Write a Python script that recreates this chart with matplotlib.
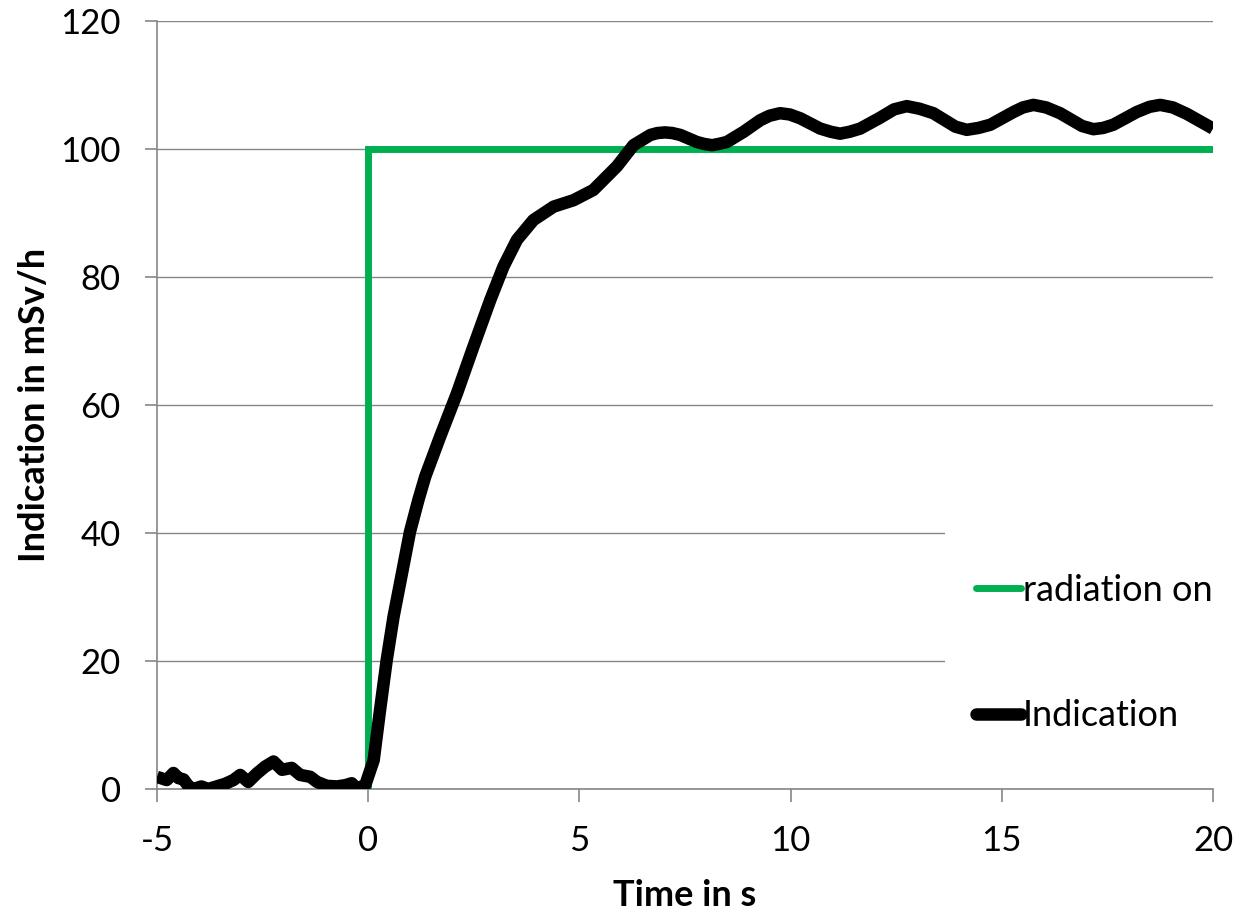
import matplotlib
matplotlib.use('Agg')
import matplotlib.pyplot as plt
from matplotlib.patches import Rectangle

time_s = [-5.0, -4.77, -4.61, -4.49, -4.37, -4.25, -4.13, -3.95, -3.79, -3.59,
          -3.39, -3.19, -3.03, -2.84, -2.64, -2.44, -2.24, -2.04, -1.81, -1.61,
          -1.37, -1.21, -0.98, -0.74, -0.54, -0.39, -0.27, -0.07, 0.13, 0.28,
          0.44, 0.60, 0.80, 0.99, 1.19, 1.35, 1.70, 2.10, 2.49, 2.89,
          3.20, 3.52, 3.91, 4.39, 4.86, 5.33, 5.89, 6.28, 6.68, 6.85,
          7.03, 7.20, 7.39, 7.78, 7.95, 8.14, 8.30, 8.49, 8.89, 9.28,
          9.50, 9.75, 9.98, 10.23, 10.70, 10.95, 11.17, 11.40, 11.65, 12.12,
          12.45, 12.75, 13.05, 13.38, 13.90, 14.17, 14.45, 14.73, 15.28, 15.50,
          15.75, 16.05, 16.38, 16.90, 17.17, 17.40, 17.64, 18.20, 18.50, 18.75,
          19.05, 19.38, 20.0]
indication = [1.9, 1.4, 2.5, 1.7, 1.5, 0.4, 0.0, 0.4, 0.0, 0.4,
              0.8, 1.4, 2.2, 1.1, 2.4, 3.5, 4.3, 3.0, 3.3, 2.2,
              1.9, 1.1, 0.5, 0.4, 0.6, 0.9, 0.1, 0.6, 4.5, 12.3,
              20.2, 26.9, 33.7, 40.2, 45.2, 48.8, 55.0, 61.8, 69.1, 76.4,
              81.6, 85.8, 88.9, 91.0, 92.0, 93.6, 97.3, 100.6, 102.2, 102.5,
              102.6, 102.5, 102.2, 101.1, 100.8, 100.6, 100.8, 101.1, 102.7, 104.5,
              105.2, 105.6, 105.4, 104.8, 103.2, 102.7, 102.4, 102.7, 103.2, 104.9,
              106.2, 106.7, 106.3, 105.6, 103.5, 103.0, 103.3, 103.8, 105.8, 106.5,
              106.9, 106.5, 105.6, 103.6, 103.1, 103.3, 103.8, 105.8, 106.6, 106.9,
              106.5, 105.5, 103.2]

# radiation switched on at t = 0
radiation_t = [0, 0, 20]
radiation_v = [0, 100, 100]

xticks = [-5, 0, 5, 10, 15, 20]
yticks = [0, 20, 40, 60, 80, 100, 120]

plt.rcParams['font.family'] = ['Lato', 'DejaVu Sans']
axis_gray = '#868686'

fig = plt.figure(figsize=(12.37, 9.15), dpi=100)
ax = fig.add_axes([0.1269, 0.1377, 0.9806 - 0.1269, 0.977 - 0.1377])

ax.plot(radiation_t, radiation_v, color='#00B050', lw=5, label='radiation on',
        solid_joinstyle='miter', zorder=3)
ax.plot(time_s, indication, color='black', lw=9, label='Indication',
        solid_capstyle='butt', solid_joinstyle='round', zorder=4)

ax.set_xlim(-5, 20)
ax.set_ylim(0, 120)
ax.set_xticks(xticks)
ax.set_yticks(yticks)
ax.set_xticklabels([str(v) for v in xticks])
ax.set_yticklabels([str(v) for v in yticks])

ax.grid(axis='y', color=axis_gray, lw=1)
ax.set_axisbelow(True)
for side in ['top', 'right']:
    ax.spines[side].set_visible(False)
for side in ['left', 'bottom']:
    ax.spines[side].set_color(axis_gray)
    ax.spines[side].set_linewidth(1.2)
ax.tick_params(axis='both', direction='out', length=9, width=1.2,
               color=axis_gray, labelsize=25, pad=17)

ax.set_xlabel('Time in s', fontsize=26, fontweight='bold', labelpad=16)
ax.set_ylabel('Indication in mSv/h', fontsize=26, fontweight='bold', labelpad=7)

# white block behind the legend hides the grid lines there
ax.add_patch(Rectangle((945 / 1237, 1 - 780 / 915), 292 / 1237, 360 / 915,
                       transform=fig.transFigure, facecolor='white',
                       edgecolor='none', zorder=2, clip_on=False))
leg = ax.legend(loc='upper left', bbox_to_anchor=(958 / 1237, 1 - 556 / 915),
                bbox_transform=fig.transFigure, frameon=False, fontsize=26,
                handlelength=1.25, handletextpad=0.05, labelspacing=2.55,
                borderpad=0)
for ln in leg.get_lines():
    ln.set_solid_capstyle('round')
leg.set_zorder(5)

fig.savefig('out.png', dpi=100)
